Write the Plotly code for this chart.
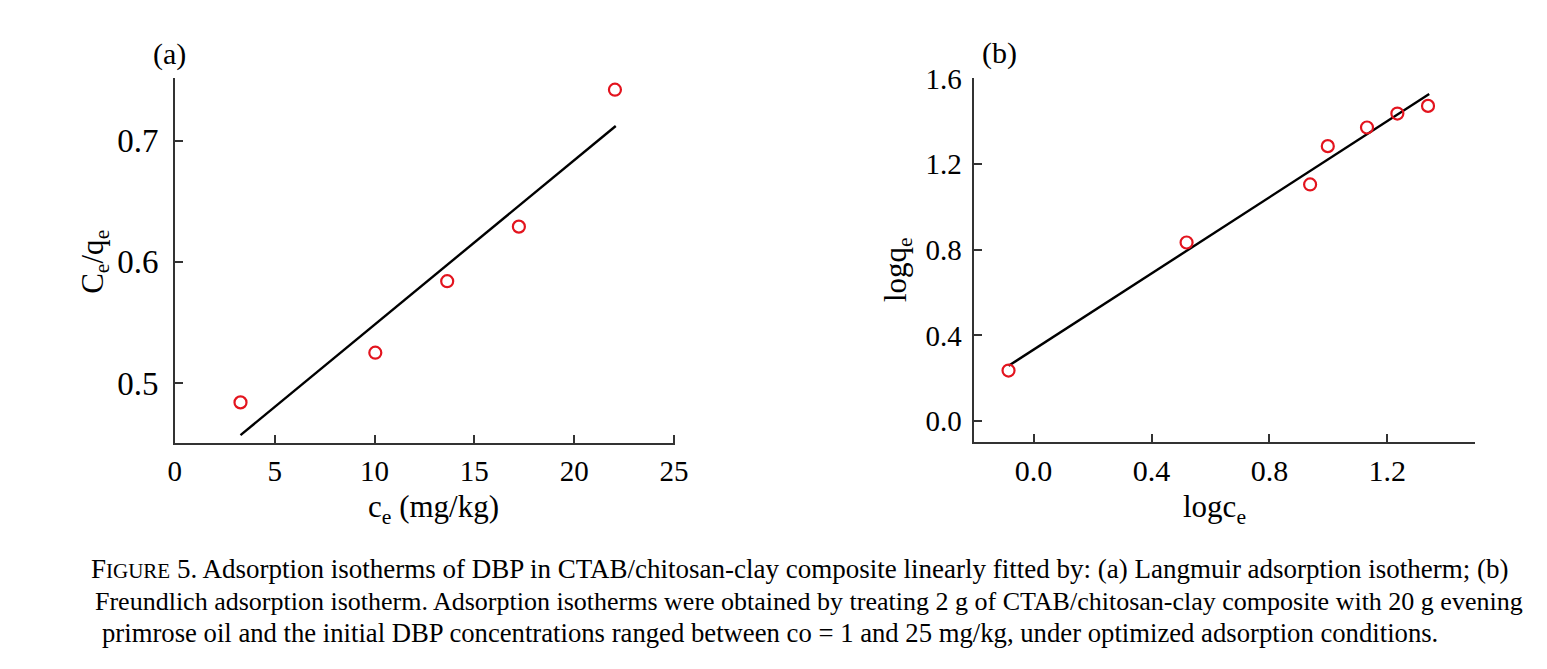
import plotly.graph_objects as go

# Panel (a): Langmuir
ce_a = [3.29, 10.04, 13.64, 17.23, 22.04]
ceqe_a = [0.484, 0.525, 0.584, 0.629, 0.742]
fit_x_a = [3.29, 22.08]
fit_y_a = [0.457, 0.712]

# Panel (b): Freundlich
logce_b = [-0.085, 0.519, 0.938, 0.998, 1.131, 1.234, 1.338]
logqe_b = [0.236, 0.834, 1.105, 1.284, 1.371, 1.436, 1.472]
fit_x_b = [-0.085, 1.342]
fit_y_b = [0.258, 1.527]

xticks_a = [0, 5, 10, 15, 20, 25]
yticks_a = [0.5, 0.6, 0.7]
xticks_b = [0.0, 0.4, 0.8, 1.2]
yticks_b = [0.0, 0.4, 0.8, 1.2, 1.6]

caption_lines = [
    "F<span style='font-size:21px'>IGURE</span> 5. Adsorption isotherms of DBP in CTAB/chitosan-clay composite linearly fitted by: (a) Langmuir adsorption isotherm; (b)",
    "Freundlich adsorption isotherm. Adsorption isotherms were obtained by treating 2 g of CTAB/chitosan-clay composite with 20 g evening",
    "primrose oil and the initial DBP concentrations ranged between co = 1 and 25 mg/kg, under optimized adsorption conditions.",
]

FONT = "Liberation Serif, Times New Roman, serif"
RED = "#e3141e"
AX = "#333333"
W, H = 1547, 669

fig = go.Figure()
fig.add_trace(go.Scatter(x=fit_x_a, y=fit_y_a, mode="lines",
                         line=dict(color="black", width=2.4), xaxis="x", yaxis="y",
                         showlegend=False))
fig.add_trace(go.Scatter(x=ce_a, y=ceqe_a, mode="markers",
                         marker=dict(symbol="circle-open", size=12, color=RED,
                                     line=dict(width=2.2, color=RED)),
                         xaxis="x", yaxis="y", showlegend=False))
fig.add_trace(go.Scatter(x=fit_x_b, y=fit_y_b, mode="lines",
                         line=dict(color="black", width=2.4), xaxis="x2", yaxis="y2",
                         showlegend=False))
fig.add_trace(go.Scatter(x=logce_b, y=logqe_b, mode="markers",
                         marker=dict(symbol="circle-open", size=12, color=RED,
                                     line=dict(width=2.2, color=RED)),
                         xaxis="x2", yaxis="y2", showlegend=False))

axcommon = dict(showline=True, linecolor=AX, linewidth=1.6, ticks="inside",
                ticklen=8, tickwidth=1.6, tickcolor=AX, showgrid=False,
                zeroline=False, mirror=False)

fig.update_layout(
    width=W, height=H,
    margin=dict(l=0, r=0, t=0, b=0),
    paper_bgcolor="white", plot_bgcolor="white",
    font=dict(family=FONT, color="black"),
    xaxis=dict(domain=[170 / W, 677 / W], range=[0, 25.06], anchor="y",
               tickvals=xticks_a, ticktext=[str(v) for v in xticks_a],
               tickfont=dict(size=29, family=FONT), ticklabelstandoff=1, **axcommon),
    yaxis=dict(domain=[1 - 437.7 / H, 1 - 63.3 / H], range=[0.4503, 0.7518], anchor="x",
               tickvals=yticks_a, ticktext=[f"{v:.1f}" for v in yticks_a],
               tickfont=dict(size=33, family=FONT), ticklabelstandoff=8, **axcommon),
    xaxis2=dict(domain=[980 / W, 1487.6 / W], range=[-0.201, 1.4986], anchor="y2",
                tickvals=xticks_b, ticktext=[f"{v:.1f}" for v in xticks_b],
                tickfont=dict(size=30, family=FONT), ticklabelstandoff=1, **axcommon),
    yaxis2=dict(domain=[1 - 436.7 / H, 1 - 64 / H], range=[-0.0988, 1.6], anchor="x2",
                tickvals=yticks_b, ticktext=[f"{v:.1f}" for v in yticks_b],
                tickfont=dict(size=29, family=FONT), ticklabelstandoff=5, **axcommon),
)

def ann(text, x, y, size, angle=0):
    fig.add_annotation(text=text, x=x / W, y=1 - y / H, xref="paper", yref="paper",
                       showarrow=False, font=dict(size=size, family=FONT, color="black"),
                       textangle=angle, xanchor="center", yanchor="middle")

ann("(a)", 165, 39, 30)
ann("(b)", 1005, 38, 30)
ann("c<sub>e</sub> (mg/kg)", 432, 505, 31)
ann("C<sub>e</sub>/q<sub>e</sub>", 89, 252, 31, -90)
ann("logc<sub>e</sub>", 1223, 505, 31)
ann("logq<sub>e</sub>", 902, 260, 31, -90)

cap_specs = [(803, 567, 27.0), (813, 600, 26.0), (773, 632, 26.7)]
for line, (cx, cy, fs) in zip(caption_lines, cap_specs):
    ann(line, cx, cy, fs)

fig.write_html("out.html", config={"displayModeBar": False},
               post_script="document.body.style.margin='0';document.body.style.overflow='hidden';")
